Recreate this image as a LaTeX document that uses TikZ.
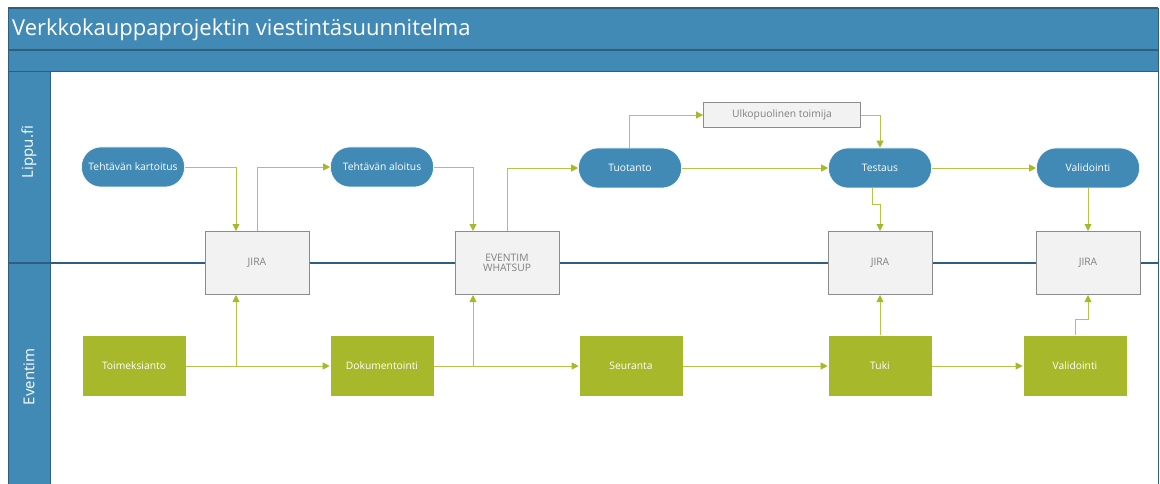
\documentclass[tikz,border=0pt]{standalone}
\usepackage{fontspec}
\setmainfont{Open Sans}
\usetikzlibrary{arrows.meta}
\definecolor{laneblue}{HTML}{418AB6}
\definecolor{darkline}{HTML}{2F5F7F}
\definecolor{olive}{HTML}{A7B92A}
\definecolor{conn}{HTML}{B4C64A}
\definecolor{boxgray}{HTML}{F2F2F2}
\definecolor{boxline}{HTML}{8C8C8C}
\definecolor{boxtext}{HTML}{808080}
\tikzset{
  pill/.style={draw=white, line width=0.6pt, fill=laneblue, rounded corners=19.5pt, minimum width=103pt, minimum height=40pt, text=white, font=\fontsize{10.3}{12}\selectfont, inner sep=1pt},
  graybox/.style={draw=boxline, line width=1pt, fill=boxgray, minimum width=104pt, minimum height=63pt, text=boxtext, font=\fontsize{10.3}{12}\selectfont, align=center, inner sep=1pt},
  smallbox/.style={draw=boxline, line width=0.8pt, fill=boxgray, minimum width=157pt, minimum height=25pt, text=boxtext, font=\fontsize{10.3}{12}\selectfont, inner sep=1pt},
  greenbox/.style={draw=white, line width=0.6pt, fill=olive, minimum width=104pt, minimum height=61pt, text=white, font=\fontsize{10.3}{12}\selectfont, inner sep=1pt},
  link/.style={draw=conn, line width=0.9pt, -{Triangle[length=7pt,width=7pt,fill=olive,color=olive]}},
  lanelabel/.style={text=white, font=\fontsize{15}{17}\selectfont, rotate=90}
}
\begin{document}
\begin{tikzpicture}[x=1pt,y=-1pt]
\useasboundingbox (0,0) rectangle (1160,484);
% frame bands
\fill[laneblue] (8,8) rectangle (1158,72);
\fill[laneblue] (8,72) rectangle (50,484);
\draw[darkline, line width=1.2pt] (8,8) -- (1158,8);
\draw[darkline, line width=1pt] (8,8) -- (8,484);
\draw[darkline, line width=1pt] (1158,8) -- (1158,484);
\draw[darkline, line width=1.4pt] (8,50) -- (1158,50);
\draw[darkline, line width=1pt] (8,72) -- (1158,72);
\draw[darkline, line width=1pt] (50,72) -- (50,484);
\draw[darkline, line width=1.4pt] (8,263) -- (1158,263);
\node[anchor=west, text=white, font=\fontsize{22}{26}\selectfont, inner sep=0pt] (title) at (12,30) {Verkkokauppaprojektin viestintäsuunnitelma};
\node[lanelabel] (lane1) at (29,152) {Lippu.fi};
\node[lanelabel] (lane2) at (29,377) {Eventim};
% nodes
\node[pill] (kart) at (133,167) {Tehtävän kartoitus};
\node[pill] (aloit) at (382,167) {Tehtävän aloitus};
\node[pill] (tuot) at (630,168) {Tuotanto};
\node[pill] (test) at (880,168) {Testaus};
\node[pill] (val) at (1088,168) {Validointi};
\node[smallbox] (ulko) at (782,115) {Ulkopuolinen toimija};
\node[graybox] (jira1) at (257,263) {JIRA};
\node[graybox] (ew) at (507,263) {EVENTIM\\[-2pt]WHATSUP};
\node[graybox] (jira2) at (880,263) {JIRA};
\node[graybox] (jira3) at (1088,263) {JIRA};
\node[greenbox] (toim) at (134,366) {Toimeksianto};
\node[greenbox] (dok) at (382,366) {Dokumentointi};
\node[greenbox] (seur) at (631,366) {Seuranta};
\node[greenbox] (tuki) at (880,366) {Tuki};
\node[greenbox] (valg) at (1075,366) {Validointi};
% helper coordinates
\coordinate (j1n) at ([xshift=-21pt]jira1.north);
\coordinate (j1s) at ([xshift=-21pt]jira1.south);
\coordinate (ewn) at ([xshift=-34pt]ew.north);
\coordinate (ews) at ([xshift=-34pt]ew.south);
\coordinate (tuotn) at ([xshift=-1pt]tuot.north);
\coordinate (tests) at ([xshift=-8pt]test.south);
% connectors
\draw[link] (kart.east) -| (j1n);
\draw[link] (jira1.north) |- (aloit.west);
\draw[link] (aloit.east) -| (ewn);
\draw[link] (ew.north) |- (tuot.west);
\draw[link] (tuotn) |- (ulko.west);
\draw[link] (ulko.east) -| (test.north);
\draw[link] (tuot.east) -- (test.west);
\draw[link] (test.east) -- (val.west);
\draw[link] (tests) -- ++(0,16) -| (jira2.north);
\draw[link] (val.south) -- (jira3.north);
\draw[link] (toim.east) -- (dok.west);
\draw[link] (j1s |- toim.east) -- (j1s);
\draw[link] (dok.east) -- (seur.west);
\draw[link] (ews |- dok.east) -- (ews);
\draw[link] (seur.east) -- (tuki.west);
\draw[link] (tuki.north) -- (jira2.south);
\draw[link] (tuki.east) -- (valg.west);
\draw[link] (valg.north) -- ++(0,-16) -| (jira3.south);
\end{tikzpicture}
\end{document}
